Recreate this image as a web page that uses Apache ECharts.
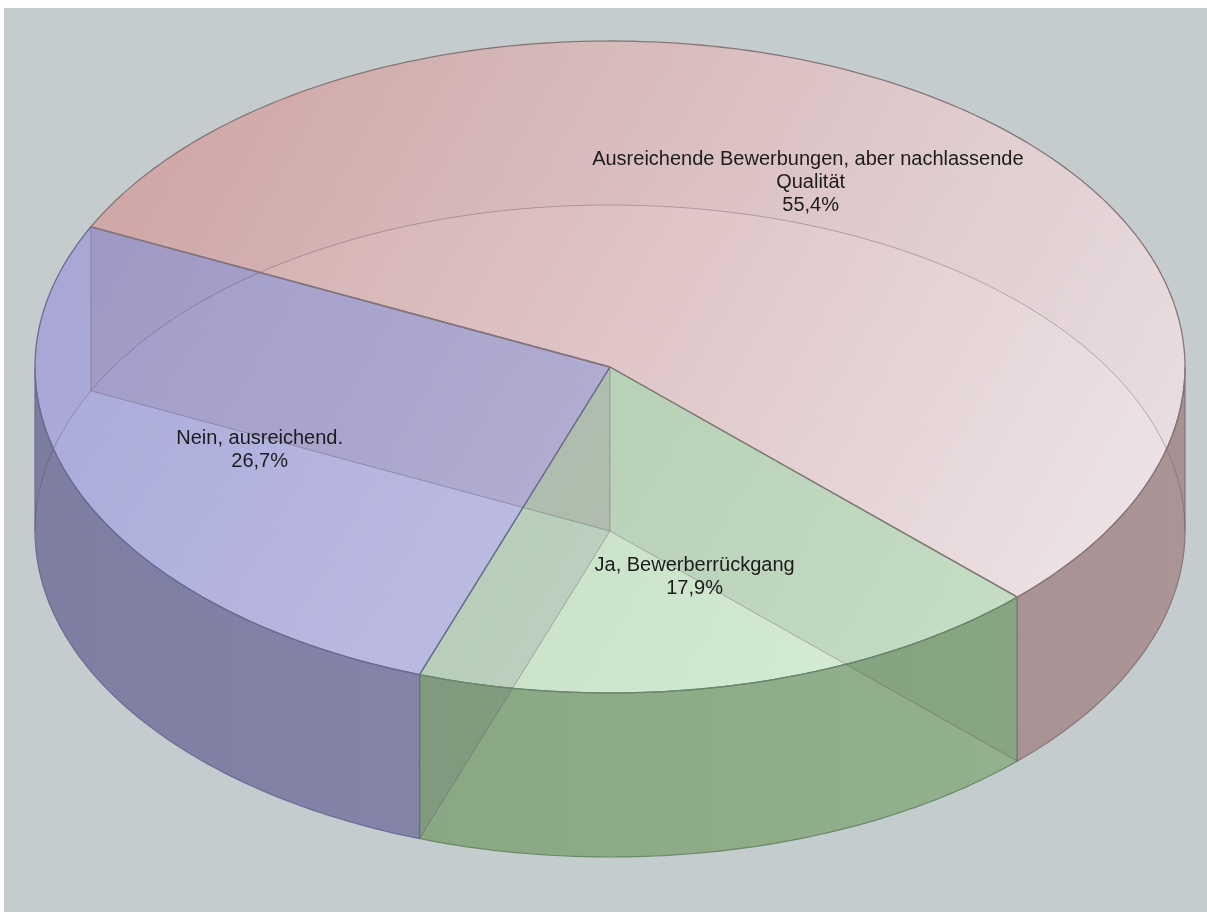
<!DOCTYPE html>
<html><head><meta charset="utf-8">
<script src="https://cdn.jsdelivr.net/npm/echarts@6/dist/echarts.min.js"></script>
<style>
html,body{margin:0;padding:0;background:#fff;width:1207px;height:912px;overflow:hidden}
#chart{position:absolute;left:4px;top:8px;width:1203px;height:904px;background:#c4ccce}
</style>
</head><body><div id="chart"></div>
<script>
// ---- data ----
const categories = ['Ja, Bewerberrückgang', 'Nein, ausreichend.', 'Ausreichende Bewerbungen, aber nachlassende Qualität'];
const values = [17.9, 26.7, 55.4];

// ---- style / layout ----
const START_DEG = 44.9;          // angle where the first slice starts (screen, clockwise)
const CX = 606, CY = 359, RX = 575, RY = 326, DEPTH = 164;
const LABEL_R = 0.66;
const labelNudge = [[0, 0], [0, 0], [-18, -9]];
const topColors  = [['#b2d1b0', '#def2de'], ['#a6a6d9', '#cfcfea'], ['#cfa3a2', '#efe9ed']];
const sideColors = [['#82a27d', '#95b38e'], ['#7d7ea2', '#8e8fb2'], ['#a08a8b', '#ab9496']];
const edgeColors = ['#6a886a', '#6b6b95', '#877779'];
const wallTint   = ['rgba(40,70,40,0.10)', 'rgba(50,40,90,0.10)', 'rgba(90,40,50,0.10)'];
const backTint   = 'rgba(80,50,60,0.025)';
const hiddenLine = 'rgba(90,70,90,0.35)';

const total = values.reduce((s, v) => s + v, 0);
const rad = d => d * Math.PI / 180;
function pt(t, z) { return [CX + RX * Math.cos(t), CY + RY * Math.sin(t) + z]; }
function arc(t1, t2, z) {
  const n = Math.max(2, Math.ceil(Math.abs(t2 - t1) / rad(1)));
  const out = [];
  for (let k = 0; k <= n; k++) out.push(pt(t1 + (t2 - t1) * k / n, z));
  return out;
}
const fmt = v => v.toFixed(1).replace('.', ',') + '%';
function grad(c, x, y, x2, y2) {
  return { type: 'linear', x: x, y: y, x2: x2, y2: y2, global: true,
    colorStops: [{ offset: 0, color: c[0] }, { offset: 1, color: c[1] }] };
}

function renderItem(params, api) {
  const i = params.dataIndex;
  let cum = 0;
  for (let k = 0; k < i; k++) cum += values[k];
  const t1 = rad(START_DEG) + cum / total * 2 * Math.PI;
  const t2 = t1 + values[i] / total * 2 * Math.PI;
  const c0 = [CX, CY], c1 = [CX, CY + DEPTH];
  const children = [];
  const edge = edgeColors[i];

  // top face
  children.push({ type: 'polygon', z2: 2, shape: { points: [c0].concat(arc(t1, t2, 0)) },
    style: { fill: grad(topColors[i], CX - RX, CY - RY, CX + RX, CY + RY) } });

  // outer wall, split into back / front parts
  const cuts = [t1];
  for (let m = Math.ceil(t1 / Math.PI); m * Math.PI < t2; m++) if (m * Math.PI > t1) cuts.push(m * Math.PI);
  cuts.push(t2);
  for (let k = 0; k < cuts.length - 1; k++) {
    const a = cuts[k], b = cuts[k + 1], mid = (a + b) / 2;
    const pts = arc(a, b, 0).concat(arc(b, a, DEPTH));
    if (Math.sin(mid) > 0) {
      children.push({ type: 'polygon', z2: 3, shape: { points: pts },
        style: { fill: grad(sideColors[i], CX - RX, 0, CX + RX, 0), stroke: edge, lineWidth: 1.2 } });
    } else {
      children.push({ type: 'polygon', z2: 4, shape: { points: pts }, style: { fill: backTint } });
      children.push({ type: 'polyline', z2: 5, shape: { points: arc(a, b, DEPTH) },
        style: { stroke: hiddenLine, lineWidth: 1, fill: null } });
    }
  }

  // radial wall at the slice start (seen through the transparent faces)
  children.push({ type: 'polygon', z2: 4, shape: { points: [c0, pt(t1, 0), pt(t1, DEPTH), c1] },
    style: { fill: wallTint[i] } });
  children.push({ type: 'polyline', z2: 5, shape: { points: [c1, pt(t1, DEPTH)] },
    style: { stroke: hiddenLine, lineWidth: 1, fill: null } });
  if (Math.sin(t1) < 0) {
    children.push({ type: 'polyline', z2: 5, shape: { points: [pt(t1, 0), pt(t1, DEPTH)] },
      style: { stroke: hiddenLine, lineWidth: 1, fill: null } });
  }
  if (i === 0) {
    children.push({ type: 'polyline', z2: 5, shape: { points: [c0, c1] },
      style: { stroke: hiddenLine, lineWidth: 1, fill: null } });
  }

  // visible top outline
  children.push({ type: 'polyline', z2: 6, shape: { points: [c0].concat(arc(t1, t2, 0), [c0]) },
    style: { stroke: edge, lineWidth: 1.3, fill: null } });

  // label
  const mt = (t1 + t2) / 2;
  children.push({ type: 'text', z2: 10,
    x: CX + RX * LABEL_R * Math.cos(mt) + labelNudge[i][0],
    y: CY + RY * LABEL_R * Math.sin(mt) + labelNudge[i][1],
    style: { text: categories[i] + '\n' + fmt(values[i]), fill: '#1c1c1c',
      fontSize: 20, fontFamily: '"Liberation Sans", Arial, sans-serif',
      align: 'center', verticalAlign: 'middle', lineHeight: 23, width: 460, overflow: 'break' } });

  return { type: 'group', children: children };
}

const chart = echarts.init(document.getElementById('chart'));
chart.setOption({
  animation: false,
  series: [{
    type: 'custom',
    coordinateSystem: 'none',
    renderItem: renderItem,
    data: values.map((v, i) => ({ name: categories[i], value: v }))
  }]
});
</script>
</body></html>
